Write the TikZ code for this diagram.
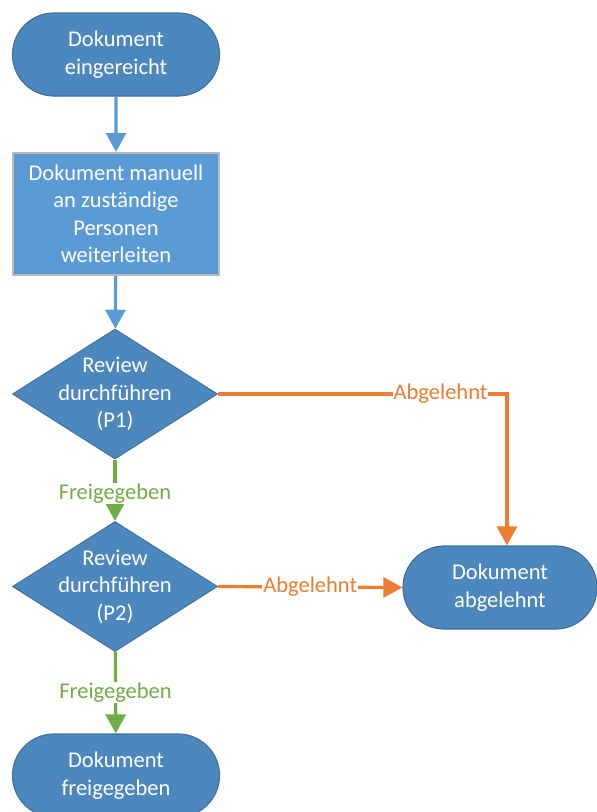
\documentclass[tikz,border=0pt]{standalone}
\usepackage{fontspec}
\setmainfont{Carlito}
\usetikzlibrary{arrows.meta,shapes.geometric,shapes.misc}
\definecolor{termfill}{RGB}{76,135,190}
\definecolor{termdraw}{RGB}{65,113,156}
\definecolor{procfill}{RGB}{91,155,213}
\definecolor{procdraw}{RGB}{185,185,185}
\definecolor{bluearr}{RGB}{91,155,213}
\definecolor{orangearr}{RGB}{237,125,49}
\definecolor{greenarr}{RGB}{112,173,71}
\begin{document}
\begin{tikzpicture}[x=1pt,y=-1pt,
  font=\fontsize{22.5}{27.5}\selectfont,
  term/.style={rounded rectangle, fill=termfill, draw=termdraw, line width=1.2pt,
    minimum width=207pt, minimum height=83pt, inner sep=0pt, text=white, align=center},
  procbox/.style={rectangle, fill=procfill, draw=procdraw, line width=2.2pt,
    minimum width=206pt, minimum height=122pt, inner sep=0pt, text=white, align=center},
  dia/.style={diamond, fill=termfill, draw=termdraw, line width=1pt,
    minimum width=205pt, minimum height=130pt, inner sep=0pt},
  wtext/.style={text=white, align=center, inner sep=0pt},
  conn/.style={line width=3.2pt},
  bconn/.style={conn, draw=bluearr, -{Triangle[width=20pt,length=19pt,fill=bluearr]}},
  oconn/.style={conn, draw=orangearr, -{Triangle[width=20pt,length=19pt,fill=orangearr]}},
  gconn/.style={conn, draw=greenarr, -{Triangle[width=20pt,length=19pt,fill=greenarr]}},
  olbl/.style={fill=white, text=orangearr, inner sep=1pt},
  glbl/.style={fill=white, text=greenarr, inner sep=1pt}
]
\useasboundingbox (0,0) rectangle (597,812);

\node[term] (start) at (116,54.5) {Dokument\\eingereicht};
\node[procbox] (proc) at (116,214) {Dokument manuell\\an zuständige\\Personen\\weiterleiten};
\node[dia] (d1) at (115,394) {};
\node[wtext] at (d1) {Review\\durchführen\\(P1)};
\node[dia] (d2) at (115,586.5) {};
\node[wtext] at (d2) {Review\\durchführen\\(P2)};
\node[term, minimum width=194pt] (rej) at (500,587.5) {Dokument\\abgelehnt};
\node[term] (fin) at (116,775.5) {Dokument\\freigegeben};

\draw[bconn] (start) -- (proc);
\draw[bconn] (proc) -- (d1);
\draw[gconn] (d1) -- node[glbl, pos=0.55] {Freigegeben} (d2);
\draw[gconn] (d2) -- node[glbl, pos=0.5] {Freigegeben} (fin);
\draw[oconn] (d1.east) -| node[olbl, pos=0.385] {Abgelehnt} ([xshift=7pt]rej.north);
\draw[oconn] (d2.east) -- node[olbl, pos=0.5] {Abgelehnt} (rej.west);
\end{tikzpicture}
\end{document}
